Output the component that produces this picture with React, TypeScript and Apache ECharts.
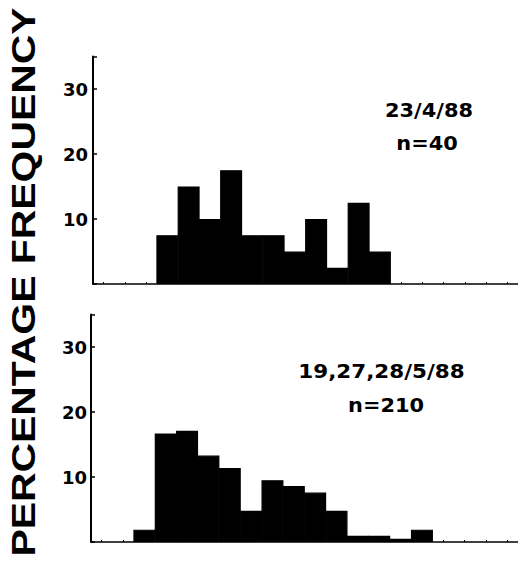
import React, { useEffect, useRef } from "react";
import * as echarts from "echarts";

// Size-class bins (20 equal classes along the horizontal axis; axis has no labels)
const binLabels = [
  "1", "2", "3", "4", "5", "6", "7", "8", "9", "10",
  "11", "12", "13", "14", "15", "16", "17", "18", "19", "20",
];

// Percentage frequency, 23/4/88 (n = 40)
const topValues = [
  null, null, null, 7.5, 15, 10, 17.5, 7.5, 7.5, 5,
  10, 2.5, 12.5, 5, null, null, null, null, null, null,
];

// Percentage frequency, 19,27,28/5/88 (n = 210)
const bottomValues = [
  null, null, 1.9, 16.7, 17.1, 13.3, 11.4, 4.8, 9.5, 8.6,
  7.6, 4.8, 0.95, 0.95, 0.5, 1.9, null, null, null, null,
];

const yTicks = [0, 10, 20, 30];
const yMax = 35;

const topTitle = "23/4/88";
const topN = "n=40";
const bottomTitle = "19,27,28/5/88";
const bottomN = "n=210";
const axisTitle = "PERCENTAGE FREQUENCY";

export default function App() {
  const ref = useRef<HTMLDivElement>(null);

  useEffect(() => {
    if (!ref.current) return;
    const chart = echarts.init(ref.current, undefined, { renderer: "svg" });
    const labelFont = {
      fontFamily: "DejaVu Sans",
      fontWeight: "bold" as const,
      fontSize: 18,
      color: "#000",
    };
    const mkX = (gridIndex: number) => ({
      type: "category" as const,
      gridIndex,
      data: binLabels,
      boundaryGap: true,
      axisLine: { show: true, lineStyle: { color: "#000", width: 1.5 } },
      axisTick: {
        show: true,
        inside: true,
        alignWithLabel: true,
        interval: 0,
        length: 2,
        lineStyle: { color: "#000", width: 1 },
      },
      axisLabel: { show: false },
      splitLine: { show: false },
    });
    const mkY = (gridIndex: number, margin: number) => ({
      type: "value" as const,
      gridIndex,
      min: yTicks[0],
      max: yMax,
      interval: yTicks[1] - yTicks[0],
      axisLine: { show: true, onZero: false, lineStyle: { color: "#000", width: 2 } },
      axisTick: { show: true, inside: true, length: 4, lineStyle: { color: "#000", width: 1.5 } },
      axisLabel: {
        ...labelFont,
        margin,
        formatter: (v: number) => (v === 0 || v > 30 ? "" : String(v)),
      },
      splitLine: { show: false },
    });
    const barStyle = { color: "#000", borderColor: "#000", borderWidth: 1.2 };

    chart.setOption({
      animation: false,
      backgroundColor: "#fff",
      grid: [
        { left: 93, top: 56.5, width: 427, height: 227.5 },
        { left: 91, top: 314.5, width: 427, height: 227.5 },
      ],
      xAxis: [mkX(0), mkX(1)],
      yAxis: [mkY(0, 5), mkY(1, 4)],
      series: [
        {
          type: "bar",
          xAxisIndex: 0,
          yAxisIndex: 0,
          data: topValues,
          barWidth: 22,
          itemStyle: barStyle,
        },
        {
          type: "bar",
          xAxisIndex: 1,
          yAxisIndex: 1,
          data: bottomValues,
          barWidth: 22,
          itemStyle: barStyle,
        },
      ],
      graphic: [
        {
          type: "text",
          x: 23,
          y: 282,
          rotation: Math.PI / 2,
          scaleX: 1.24,
          style: {
            text: axisTitle,
            fontFamily: "Liberation Sans",
            fontWeight: "bold",
            fontSize: 33,
            fill: "#000",
            textAlign: "center",
            textVerticalAlign: "middle",
          },
        },
        {
          type: "text",
          x: 429,
          y: 110,
          scaleX: 1.1,
          style: {
            text: topTitle,
            fontFamily: "DejaVu Sans",
            fontWeight: "bold",
            fontSize: 19,
            fill: "#000",
            textAlign: "center",
            textVerticalAlign: "middle",
          },
        },
        {
          type: "text",
          x: 427,
          y: 143.5,
          scaleX: 1.1,
          style: {
            text: topN,
            fontFamily: "DejaVu Sans",
            fontWeight: "bold",
            fontSize: 19,
            fill: "#000",
            textAlign: "center",
            textVerticalAlign: "middle",
          },
        },
        {
          type: "text",
          x: 381.5,
          y: 371,
          scaleX: 1.13,
          style: {
            text: bottomTitle,
            fontFamily: "DejaVu Sans",
            fontWeight: "bold",
            fontSize: 19,
            fill: "#000",
            textAlign: "center",
            textVerticalAlign: "middle",
          },
        },
        {
          type: "text",
          x: 386,
          y: 405,
          scaleX: 1.1,
          style: {
            text: bottomN,
            fontFamily: "DejaVu Sans",
            fontWeight: "bold",
            fontSize: 19,
            fill: "#000",
            textAlign: "center",
            textVerticalAlign: "middle",
          },
        },
      ],
    });
    return () => chart.dispose();
  }, []);

  return (
    <div
      ref={ref}
      style={{ position: "fixed", left: 0, top: 0, width: 518, height: 562, background: "#fff" }}
    />
  );
}
